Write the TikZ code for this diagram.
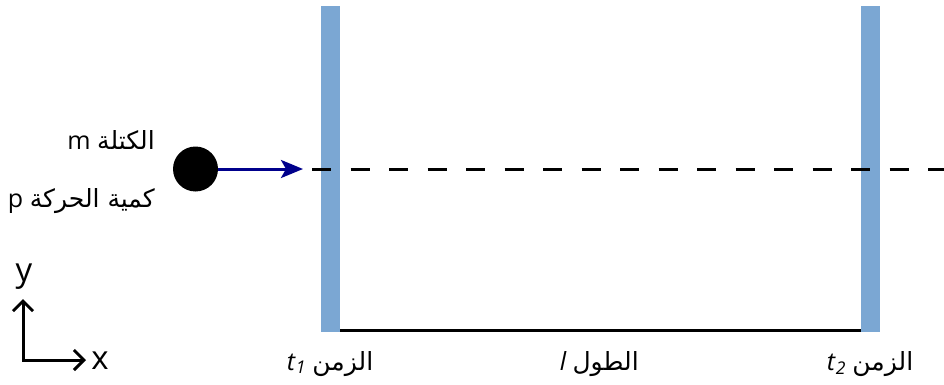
\documentclass[tikz,border=0pt]{standalone}
\usepackage{fontspec}
\setmainfont{Open Sans}
\newfontfamily\arabicfont[Script=Arabic]{DejaVu Sans}
\TeXXeTstate=1
\usetikzlibrary{arrows.meta}
\definecolor{barblue}{RGB}{123,167,211}
\definecolor{pushblue}{RGB}{0,0,140}

\begin{document}
\begin{tikzpicture}[x=1pt,y=-1pt,font=\fontsize{25}{30}\selectfont,
  wall/.style={fill=barblue, inner sep=0pt, minimum width=19pt, minimum height=326pt},
  axislabel/.style={inner sep=0pt, font=\fontsize{33}{38}\selectfont}]
\useasboundingbox (0,0) rectangle (944,385);
\node[wall] (wallone) at (330.5,169) {};
\node[wall] (walltwo) at (870.5,169) {};
\draw[line width=3pt] ([yshift=2pt]wallone.south east) -- ([yshift=2pt]walltwo.south west);
\coordinate (dashstart) at (312,169);
\coordinate (dashend) at (944,169);
\draw[line width=3pt, dash pattern=on 19pt off 19.5pt] (dashstart) -- (dashend);
\node[circle, fill=black, inner sep=0pt, minimum size=45pt] (mass) at (195.5,169) {};
\coordinate (pushtip) at (303,169);
\draw[pushblue, line width=3pt, -{Stealth[length=22pt,width=18pt,inset=5pt]}] (mass) -- (pushtip);
\node[anchor=base east, inner sep=0pt] (masslabel) at (155,149) {\beginR{\arabicfont الكتلة} m\endR};
\node[anchor=base east, inner sep=0pt] (momentumlabel) at (155,207) {\beginR{\arabicfont كمية الحركة} p\endR};
\node[anchor=base, inner sep=0pt] (timeone) at (330,370) {\beginR{\arabicfont الزمن} \beginL\textit{t}\textsubscript{\textit{1}}\endL\endR};
\node[anchor=base, inner sep=0pt] (lengthlabel) at (599,370) {\beginR{\arabicfont الطول} \textit{l}\endR};
\node[anchor=base, inner sep=0pt] (timetwo) at (870,370) {\beginR{\arabicfont الزمن} \beginL\textit{t}\textsubscript{\textit{2}}\endL\endR};
% axes
\coordinate (origin) at (23,360);
\coordinate (ytip) at (23,299);
\coordinate (xtip) at (86,360);
\draw[line width=3pt, {Straight Barb[length=10pt,width=20pt]}-{Straight Barb[length=10pt,width=20pt]}] (ytip) -- (origin) -- (xtip);
\node[axislabel] (ylabel) at (24,277) {y};
\node[axislabel] (xlabel) at (100,361) {x};
\end{tikzpicture}
\end{document}
